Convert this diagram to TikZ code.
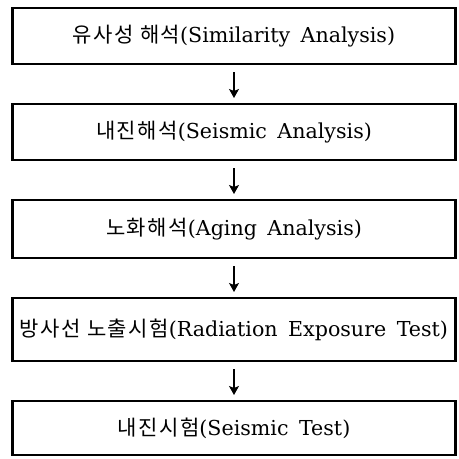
\documentclass[tikz,border=0pt]{standalone}
\usepackage{fontspec}
\setmainfont{DejaVu Serif}[WordSpace=1.6]
\newfontfamily\krfont{Noto Sans CJK KR}[Scale=1.02,LetterSpace=7]
\usetikzlibrary{arrows.meta}
\usetikzlibrary{positioning}

\begin{document}
\begin{tikzpicture}[->,>={Stealth[length=9pt,width=10pt,inset=2pt]},node distance=40pt,
  main node/.style={rectangle,draw,line width=2.5pt,outer sep=0pt,minimum width=443pt,minimum height=56pt,inner sep=0pt,font=\fontsize{20.6}{24}\selectfont}]

  \useasboundingbox (0,0) rectangle (459pt,-459pt);

  \node[main node] (SimA) at (234pt,-36pt) {{\krfont 유사성 해석}(Similarity Analysis)};
  \node[main node] (SeiA) [below = of SimA] {{\krfont 내진해석}(Seismic Analysis)};
  \node[main node, minimum height=58pt] (AgA) [below = of SeiA] {{\krfont 노화해석}(Aging Analysis)};
  \node[main node, minimum height=63pt] (RET) [below = of AgA] {{\krfont 방사선 노출시험}(Radiation Exposure Test)};
  \node[main node, minimum height=54pt] (SeiT) [below = of RET] {{\krfont 내진시험}(Seismic Test)};

  \path[line width=1.2pt,shorten <=8pt,shorten >=6pt]
    (SimA) edge (SeiA)
    (SeiA) edge (AgA)
    (AgA) edge (RET)
    (RET) edge (SeiT);

\end{tikzpicture}
\end{document}
